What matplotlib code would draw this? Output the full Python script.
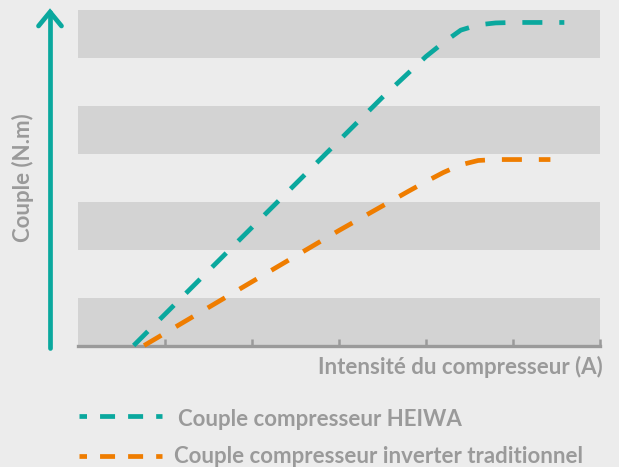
import matplotlib
matplotlib.use("Agg")
import matplotlib.pyplot as plt
from matplotlib.lines import Line2D

plt.rcParams['font.family'] = ['Lato', 'DejaVu Sans']
plt.rcParams['lines.scale_dashes'] = False

# Data (x: current units, y: torque units)
heiwa_x = [0.64, 1.5, 2.5, 3.5, 4.0, 4.2, 4.4, 4.6, 4.8, 5.0, 5.59]
heiwa_y = [0.0, 1.56, 3.37, 5.18, 6.03, 6.32, 6.58, 6.69, 6.73, 6.74, 6.74]
trad_x = [0.76, 2.0, 3.0, 3.8, 4.0, 4.2, 4.4, 4.6, 4.8, 5.43]
trad_y = [0.0, 1.33, 2.40, 3.22, 3.42, 3.61, 3.77, 3.86, 3.88, 3.88]
band_ranges = [(0, 1), (2, 3), (4, 5), (6, 7)]
x_ticks = [1, 2, 3, 4, 5, 6]
series_labels = ["Couple compresseur HEIWA", "Couple compresseur inverter traditionnel"]
x_label = "Intensité du compresseur (A)"
y_label = "Couple (N.m)"

TEAL = '#0aa89e'
ORANGE = '#ef7d00'
GRAY = '#9a9a9a'
BG = '#ececec'
BAND = '#d3d3d3'
FS = 16

W, H = 619, 467
fig = plt.figure(figsize=(W / 100, H / 100), dpi=100, facecolor=BG)
ax = fig.add_axes([78 / W, 1 - 345.5 / H, (600 - 78) / W, (345.5 - 10) / H])
ax.set_facecolor(BG)
ax.set_xlim(0, 6)
ax.set_ylim(0, 7)

for lo, hi in band_ranges:
    ax.axhspan(lo, hi, color=BAND, lw=0, zorder=0)

dash = (0, (14.4, 12.2))
ax.plot(heiwa_x, heiwa_y, color=TEAL, lw=3.4, linestyle=dash, dash_capstyle='butt', zorder=3, clip_on=False)
ax.plot(trad_x, trad_y, color=ORANGE, lw=3.4, linestyle=dash, dash_capstyle='butt', zorder=3, clip_on=False)

for s in ['top', 'right', 'left']:
    ax.spines[s].set_visible(False)
ax.spines['bottom'].set_color(GRAY)
ax.spines['bottom'].set_linewidth(2.4)
ax.spines['bottom'].set_zorder(2)
ax.set_xticks(x_ticks)
ax.set_xticklabels([])
ax.set_yticks([])
ax.tick_params(axis='x', direction='in', length=5, width=1.8, color=GRAY)


def figline(xs, ys, **kw):
    fig.add_artist(Line2D([x / W for x in xs], [1 - y / H for y in ys],
                          transform=fig.transFigure, **kw))


# Vertical arrow (y axis)
figline([50, 50], [348, 12], color=TEAL, lw=3.4, solid_capstyle='round')
figline([38.5, 50, 61.5], [26, 12, 26], color=TEAL, lw=3.4,
        solid_capstyle='round', solid_joinstyle='miter')

fig.text(603 / W, 1 - 374 / H, x_label, ha='right', va='baseline',
         color=GRAY, fontsize=FS, fontweight='bold')
fig.text(22.5 / W, 1 - 178 / H, y_label, ha='center', va='center', rotation=90,
         color=GRAY, fontsize=FS, fontweight='bold')

# Legend
leg_dash = (5.4, (10.8, 9.4))
for yy, col, lab, tx, base in [(416, TEAL, series_labels[0], 178, 426),
                               (456, ORANGE, series_labels[1], 174, 463)]:
    figline([79, 162], [yy, yy], color=col, lw=3.4, linestyle=leg_dash, dash_capstyle='butt')
    fig.text(tx / W, 1 - base / H, lab, ha='left', va='baseline',
             color=GRAY, fontsize=FS, fontweight='bold')

fig.savefig('out.png', dpi=100, facecolor=BG)
